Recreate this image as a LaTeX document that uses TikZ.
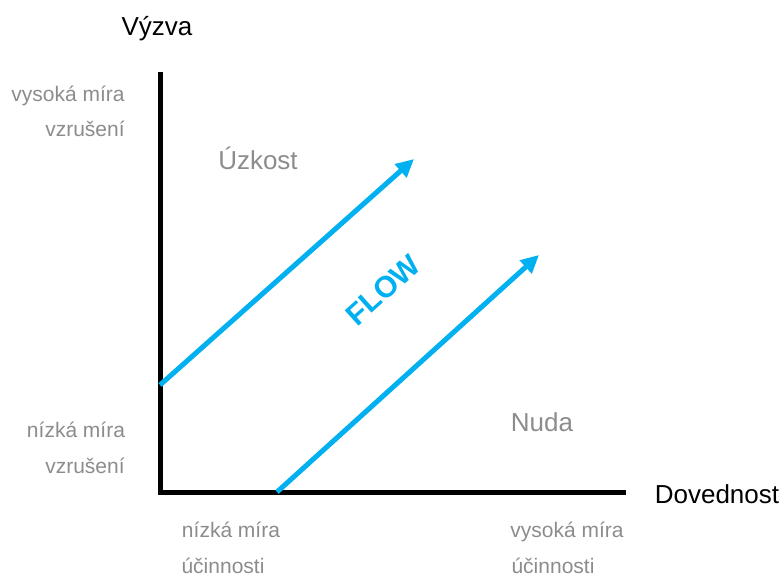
\documentclass[tikz,border=0pt]{standalone}
\usepackage{fontspec}
\setmainfont{Liberation Sans}
\usetikzlibrary{arrows.meta}
\definecolor{flowblue}{HTML}{00B0F0}
\definecolor{labelgray}{HTML}{8C8C8C}
\begin{document}
\begin{tikzpicture}[x=1pt,y=-1pt,
  axis/.style={line width=5pt,black},
  flowarrow/.style={line width=5pt,flowblue,-{Triangle[length=18pt,width=17pt]}},
  small/.style={text=labelgray,font=\fontsize{21}{23}\selectfont,inner sep=0pt,anchor=base},
  zone/.style={text=labelgray,font=\fontsize{26}{28}\selectfont,inner sep=0pt,anchor=base},
  axislabel/.style={text=black,font=\fontsize{26}{28}\selectfont,inner sep=0pt,anchor=base}]
\useasboundingbox (0,0) rectangle (782,575);
% axes
\coordinate (top) at (160,72);
\coordinate (origin) at (160,492);
\coordinate (right) at (626,492);
\draw[axis] (top) -- (origin) -- (right);
% flow channel boundaries
\coordinate (a1) at (160,385);
\coordinate (a2) at (414,159);
\coordinate (b1) at (277,492);
\coordinate (b2) at (539,255);
\draw[flowarrow] (a1) -- (a2);
\draw[flowarrow] (b1) -- (b2);
% axis titles (placed by baseline)
\node[axislabel] (yt) at (157,36) {Výzva};
\node[axislabel] (xt) at (717,503) {Dovednost};
% axis scale labels
\node[small] (y1a) at (68,102) {vysoká míra};
\node[small] (y1b) at (85,137) {vzrušení};
\node[small] (y0a) at (76,437) {nízká míra};
\node[small] (y0b) at (85,473) {vzrušení};
\node[small] (x0a) at (231,537) {nízká míra};
\node[small] (x0b) at (223,573) {účinnosti};
\node[small] (x1a) at (567,537) {vysoká míra};
\node[small] (x1b) at (553,573) {účinnosti};
% zones
\node[zone] (anx) at (258,170) {Úzkost};
\node[zone] (bore) at (542,431) {Nuda};
\node[text=flowblue,font=\fontsize{30}{32}\selectfont\bfseries,rotate=42,inner sep=0pt] (flow) at (383,290) {FLOW};
\end{tikzpicture}
\end{document}
